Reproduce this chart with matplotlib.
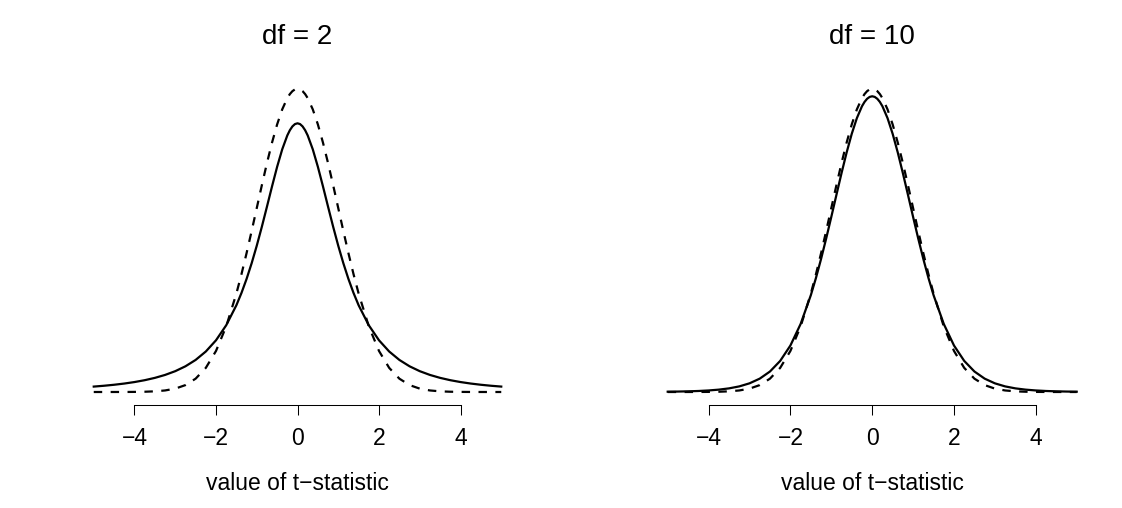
import matplotlib
matplotlib.use("Agg")
import matplotlib.pyplot as plt

# x grid (values of t-statistic) at which densities are read
x = [-5.0, -4.75, -4.5, -4.25, -4.0, -3.75, -3.5, -3.25, -3.0, -2.75, -2.5, -2.25,
     -2.0, -1.75, -1.5, -1.375, -1.25, -1.125, -1.0, -0.875, -0.75, -0.625, -0.5,
     -0.375, -0.25, -0.1875, -0.125, -0.0625, 0.0, 0.0625, 0.125, 0.1875, 0.25,
     0.375, 0.5, 0.625, 0.75, 0.875, 1.0,
     1.125, 1.25, 1.375, 1.5, 1.75, 2.0, 2.25, 2.5, 2.75, 3.0, 3.25, 3.5, 3.75, 4.0,
     4.25, 4.5, 4.75, 5.0]

# dashed curve (normal reference)
normal = [0.0000015, 0.000005, 0.000016, 0.0000478, 0.000134, 0.00035, 0.00087,
          0.00203, 0.00443, 0.00909, 0.01753, 0.03174, 0.05399, 0.08628, 0.12952,
          0.15501, 0.18265, 0.21188, 0.24197, 0.27206, 0.30114, 0.32816, 0.35207,
          0.37186, 0.38667, 0.39199, 0.39584, 0.39816, 0.39894, 0.39816, 0.39584,
          0.39199, 0.38667, 0.37186, 0.35207,
          0.32816, 0.30114, 0.27206, 0.24197, 0.21188, 0.18265, 0.15501, 0.12952,
          0.08628, 0.05399, 0.03174, 0.01753, 0.00909, 0.00443, 0.00203, 0.00087,
          0.00035, 0.000134, 0.0000478, 0.000016, 0.000005, 0.0000015]

# solid curve, df = 2
t_df2 = [0.00713, 0.00821, 0.00953, 0.01113, 0.01309, 0.01553, 0.01859, 0.02246,
         0.02741, 0.03382, 0.04220, 0.05328, 0.06804, 0.08779, 0.11413, 0.13031,
         0.14872, 0.16945, 0.19245, 0.21742, 0.24378, 0.27054, 0.29630, 0.31929,
         0.33761, 0.34443, 0.34945, 0.35252, 0.35355, 0.35252, 0.34945, 0.34443,
         0.33761, 0.31929, 0.29630, 0.27054,
         0.24378, 0.21742, 0.19245, 0.16945, 0.14872, 0.13031, 0.11413, 0.08779,
         0.06804, 0.05328, 0.04220, 0.03382, 0.02741, 0.02246, 0.01859, 0.01553,
         0.01309, 0.01113, 0.00953, 0.00821, 0.00713]

# solid curve, df = 10
t_df10 = [0.00040, 0.00059, 0.00088, 0.00133, 0.00203, 0.00311, 0.00478, 0.00737,
          0.01140, 0.01757, 0.02694, 0.04090, 0.06115, 0.08952, 0.12745, 0.15012,
          0.17510, 0.20203, 0.23036, 0.25933, 0.28797, 0.31517, 0.33970, 0.36034,
          0.37600, 0.38167, 0.38578, 0.38827, 0.38911, 0.38827, 0.38578, 0.38167,
          0.37600, 0.36034, 0.33970, 0.31517,
          0.28797, 0.25933, 0.23036, 0.20203, 0.17510, 0.15012, 0.12745, 0.08952,
          0.06115, 0.04090, 0.02694, 0.01757, 0.01140, 0.00737, 0.00478, 0.00311,
          0.00203, 0.00133, 0.00088, 0.00059, 0.00040]

titles = ["df = 2", "df = 10"]
tick_values = [-4, -2, 0, 2, 4]
tick_labels = ["\u22124", "\u22122", "0", "2", "4"]
xlabel = "value of t\u2212statistic"

plt.rcParams['font.family'] = ['Liberation Sans', 'DejaVu Sans']

W, H = 1122, 508
fig = plt.figure(figsize=(W / 100, H / 100), dpi=100)

# panel placement in pixels: (x at -5, x at 5)
panels = [(93.75, 501.25), (667.7, 1076.7)]
y_base = 392.0
y_top = 392.0 - 0.4 * 760.0
series = [t_df2, t_df10]

for (x0, x1), sol, title in zip(panels, series, titles):
    ax = fig.add_axes([x0 / W, (H - y_base) / H, (x1 - x0) / W, (y_base - y_top) / H])
    ax.set_xlim(-5, 5)
    ax.set_ylim(0, 0.4)
    ax.plot(x, sol, color='black', lw=1.6, solid_joinstyle='round', clip_on=False)
    ax.plot(x, normal, color='black', lw=1.6, linestyle=(0, (3.8, 3.8)),
            dash_joinstyle='round', clip_on=False)
    for s in ['top', 'right', 'left']:
        ax.spines[s].set_visible(False)
    ax.spines['bottom'].set_position(('outward', 9.4))
    ax.spines['bottom'].set_bounds(-4, 4)
    ax.spines['bottom'].set_linewidth(0.75)
    ax.set_yticks([])
    ax.set_xticks(tick_values)
    ax.set_xticklabels(tick_labels)
    ax.tick_params(axis='x', direction='out', length=7.2, width=0.75, labelsize=16.5, pad=8.5)
    xc = (x0 + x1) / 2
    fig.text(xc / W, (H - 37) / H, title, ha='center', va='center', fontsize=20)
    fig.text(xc / W, (H - 484) / H, xlabel, ha='center', va='center', fontsize=16.5)

fig.savefig("out.png", dpi=100)
